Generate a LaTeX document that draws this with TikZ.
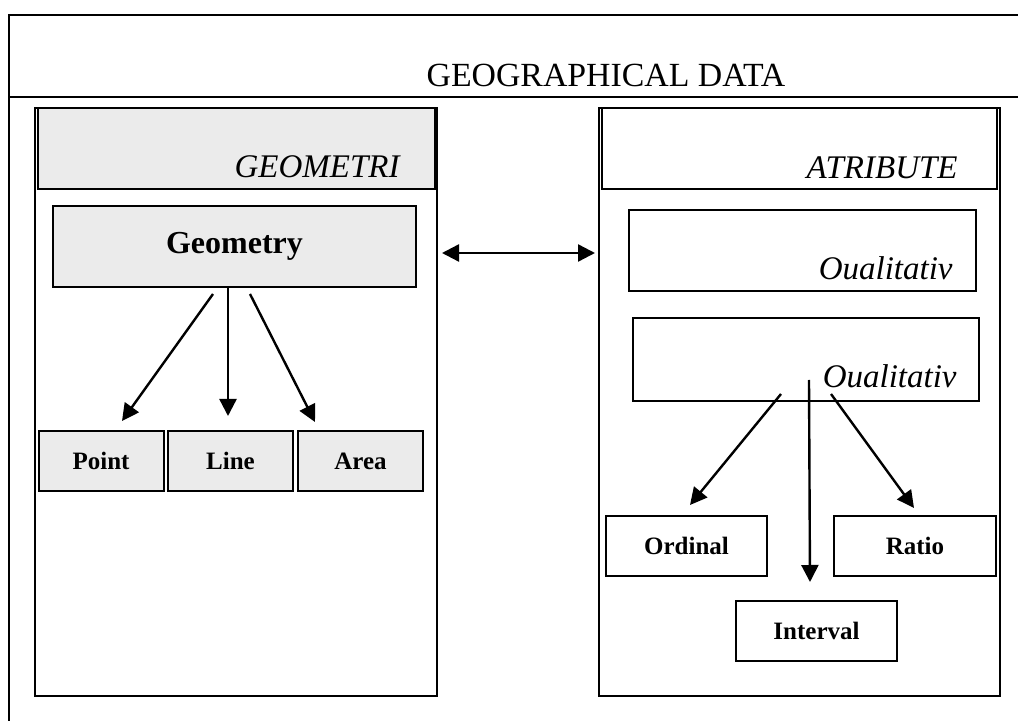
\documentclass[tikz,border=0pt]{standalone}
\usepackage{fontspec}
\setmainfont{Liberation Serif}
\usetikzlibrary{arrows.meta,positioning,calc}
\tikzset{
    box/.style={draw,line width=1pt,inner sep=0pt},
    shade box/.style={box,fill=black!8},
    cls/.style={font=\fontsize{12.5}{14}\selectfont\bfseries},
    hdr/.style={anchor=base east,inner sep=0pt,font=\fontsize{16.5}{18}\selectfont\itshape},
    arr/.style={line width=1.2pt,-{Triangle[length=8.5pt,width=8.5pt]}}
}

\begin{document}
\begin{tikzpicture}[x=0.5pt,y=-0.5pt]
\useasboundingbox (0,0) rectangle (1018,721);
\clip (0,0) rectangle (1018,721);

% outer frame and title
\draw[line width=1.3pt] (9,15) rectangle (1030,740);
\draw[line width=1.3pt] (9,97) -- (1030,97);
\node[anchor=base,inner sep=0pt,font=\fontsize{16.9}{19}\selectfont] (title) at (606,87) {GEOGRAPHICAL DATA};

% the two panels
\node[box,minimum width=201pt,minimum height=294pt] (gpanel) at (236,402) {};
\node[box,minimum width=200.5pt,minimum height=294pt] (apanel) at (799.5,402) {};
\node[shade box,minimum width=198.5pt,minimum height=40.5pt] (ghead) at (236.5,148.5) {};
\node[box,minimum width=197.5pt,minimum height=40.5pt] (ahead) at (799.5,148.5) {};
\node[hdr] (gheadtxt) at (400,178) {GEOMETRI};
\node[hdr] (aheadtxt) at (958,179) {ATRIBUTE};

\draw[line width=1.2pt,{Triangle[length=8.5pt,width=8.5pt]}-{Triangle[length=8.5pt,width=8.5pt]},
      shorten <=2pt,shorten >=1.5pt] (gpanel.east |- 0,253) -- (apanel.west |- 0,253);

% geometry side
\node[shade box,minimum width=181.5pt,minimum height=40.5pt,
      font=\fontsize{16}{18}\selectfont\bfseries] (geom) at (234.5,246.5) {Geometry};
\foreach \n/\x/\t in {point/101/Point,line/230.5/Line,area/360.5/Area}
  \node[shade box,cls,minimum width=62.5pt,minimum height=30pt] (\n) at (\x,461) {\t};

\draw[arr] ([shift={(-21.5,6)}]geom.south) -- ([shift={(21,-9)}]point.north);
\draw[arr] ([shift={(-6.5,0)}]geom.south) -- ([shift={(-2.5,-14)}]line.north);
\draw[arr] ([shift={(15.5,6)}]geom.south) -- ([shift={(-45.5,-8)}]area.north);

% attribute side
\node[box,minimum width=173.5pt,minimum height=40.5pt] (qone) at (802.5,250.5) {};
\node[box,minimum width=173pt,minimum height=41.5pt] (qtwo) at (806,359.5) {};
\node[hdr] (qonetxt) at (953,280) {Oualitativ};
\node[hdr] (qtwotxt) at (957,388) {Oualitativ};

\node[box,cls,minimum width=80.5pt,minimum height=30pt] (ordinal) at (686.5,546) {Ordinal};
\node[box,cls,minimum width=81pt,minimum height=30pt] (ratio) at (915,546) {Ratio};
\node[box,cls,minimum width=80.5pt,minimum height=30pt] (interval) at (816.5,631) {Interval};

\draw[arr] ([shift={(-25,-8)}]qtwo.south) -- ([shift={(3.5,-10)}]ordinal.north);
\draw[arr] ([shift={(3,-22)}]qtwo.south) -- ([shift={(-6.5,-18)}]interval.north);
\draw[arr] ([shift={(25,-8)}]qtwo.south) -- ([shift={(-1,-7)}]ratio.north);

\end{tikzpicture}
\end{document}
